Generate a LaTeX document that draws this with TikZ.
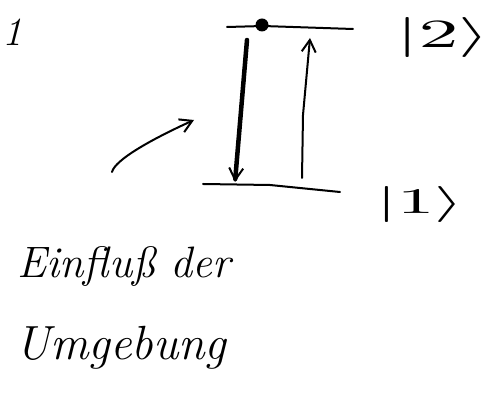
\documentclass[tikz,border=0pt]{standalone}
\usepackage{fontspec}
\usetikzlibrary{arrows.meta}
\begin{document}
\begin{tikzpicture}[x=1pt,y=-1pt,
  pen/.style={line width=2pt,line cap=round,line join=round},
  head/.style={-{Straight Barb[length=12pt,width=14pt,line width=2pt]}},
  label/.style={inner sep=0pt}]
\useasboundingbox (0,0) rectangle (499,411);
% levels
\coordinate (l2a) at (227,27);
\coordinate (l2b) at (353,29);
\coordinate (l1a) at (203,184);
\coordinate (l1b) at (340,192);
\draw[pen] (l2a) -- (263,26) -- (l2b);
\draw[pen] (l1a) -- (270,185) -- (l1b);
% electron
\fill (262,25) circle (6.5pt);
% transitions
\coordinate (dtop) at (247,40);
\coordinate (dbot) at (235,182);
\draw[pen,line width=4.5pt,head] (dtop) -- (dbot);
\coordinate (ubot) at (302,178);
\coordinate (utop) at (310,38);
\draw[pen,head] (ubot) -- (303,115) -- (utop);
% environment arrow
\coordinate (ea) at (112,172);
\coordinate (eb) at (194,120);
\draw[pen,head] (ea) .. controls (115,160) and (150,140) .. (eb);
% labels
\node[label,anchor=base,font=\fontsize{40}{40}\itshape\selectfont] (lab1) at (12,46) {1};
\node[label,xscale=8,yscale=4] (k2) at (443,38) {$|2\rangle$};
\node[label,xscale=7.5,yscale=3.6] (k1) at (420,205) {$|1\rangle$};
\node[label,anchor=base west,font=\fontsize{44}{44}\itshape\selectfont] (t1) at (17,278) {Einfluß der};
\node[label,anchor=base west,font=\fontsize{48}{48}\itshape\selectfont] (t2) at (15,360) {Umgebung};
\end{tikzpicture}
\end{document}
